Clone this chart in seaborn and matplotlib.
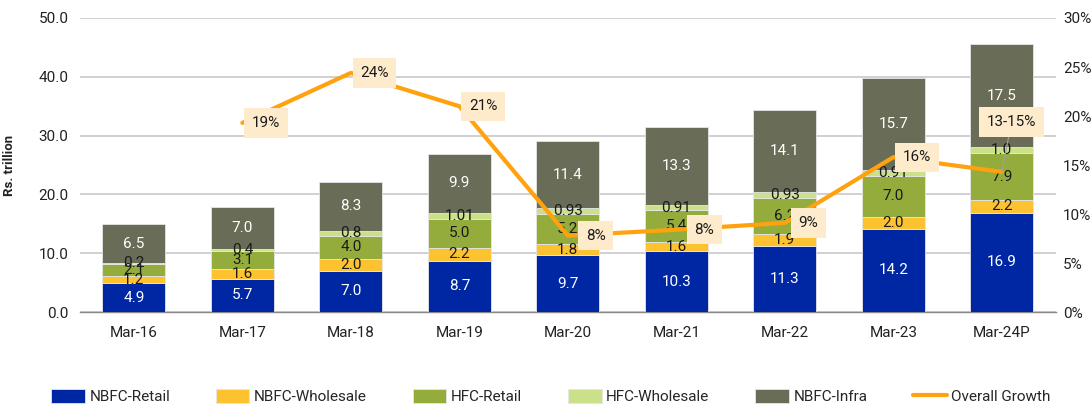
import matplotlib
matplotlib.use('Agg')
import matplotlib.pyplot as plt
import seaborn as sns
import numpy as np
import pandas as pd

# data
years = ['Mar-16', 'Mar-17', 'Mar-18', 'Mar-19', 'Mar-20', 'Mar-21', 'Mar-22', 'Mar-23', 'Mar-24P']
nbfc_retail = [4.9, 5.7, 7.0, 8.7, 9.7, 10.3, 11.3, 14.2, 16.9]
nbfc_wholesale = [1.2, 1.6, 2.0, 2.2, 1.8, 1.6, 1.9, 2.0, 2.2]
hfc_retail = [2.1, 3.1, 4.0, 5.0, 5.2, 5.4, 6.2, 7.0, 7.9]
hfc_wholesale = [0.2, 0.4, 0.8, 1.01, 0.93, 0.91, 0.93, 0.91, 1.0]
nbfc_infra = [6.5, 7.0, 8.3, 9.9, 11.4, 13.3, 14.1, 15.7, 17.5]
growth = [np.nan, 19.3, 24.4, 21.0, 7.8, 8.4, 9.1, 15.8, 14.3]
growth_labels = ['', '19%', '24%', '21%', '8%', '8%', '9%', '16%', '13-15%']

seg_labels = {
    'NBFC-Retail': ['4.9', '5.7', '7.0', '8.7', '9.7', '10.3', '11.3', '14.2', '16.9'],
    'NBFC-Wholesale': ['1.2', '1.6', '2.0', '2.2', '1.8', '1.6', '1.9', '2.0', '2.2'],
    'HFC-Retail': ['2.1', '3.1', '4.0', '5.0', '5.2', '5.4', '6.2', '7.0', '7.9'],
    'HFC-Wholesale': ['0.2', '0.4', '0.8', '1.01', '0.93', '0.91', '0.93', '0.91', '1.0'],
    'NBFC-Infra': ['6.5', '7.0', '8.3', '9.9', '11.4', '13.3', '14.1', '15.7', '17.5'],
}

df = pd.DataFrame({
    'year': years,
    'NBFC-Retail': nbfc_retail,
    'NBFC-Wholesale': nbfc_wholesale,
    'HFC-Retail': hfc_retail,
    'HFC-Wholesale': hfc_wholesale,
    'NBFC-Infra': nbfc_infra,
    'growth': growth,
})

series = ['NBFC-Retail', 'NBFC-Wholesale', 'HFC-Retail', 'HFC-Wholesale', 'NBFC-Infra']
colors = {'NBFC-Retail': '#0027A3', 'NBFC-Wholesale': '#FDC22F',
          'HFC-Retail': '#94AC3B', 'HFC-Wholesale': '#CBE189', 'NBFC-Infra': '#696D57'}
text_colors = {'NBFC-Retail': 'white', 'NBFC-Wholesale': '#1a1a1a',
               'HFC-Retail': '#1a1a1a', 'HFC-Wholesale': '#1a1a1a', 'NBFC-Infra': 'white'}
line_color = '#FFA20D'

sns.set_style('white')
plt.rcParams['font.family'] = ['Roboto', 'DejaVu Sans']
fs = 11

fig = plt.figure(figsize=(10.91, 4.09), dpi=100)
ax = fig.add_axes([0.073, 0.237, 0.895, 0.719])

x = np.arange(len(years))
bottom = np.zeros(len(years))
for s in series:
    vals = df[s].values
    ax.bar(x, vals, bottom=bottom, width=0.58, color=colors[s], edgecolor='#E6E6E6',
           linewidth=0.6, label=s, zorder=3)
    for i in range(len(x)):
        ax.text(x[i], bottom[i] + vals[i] / 2, seg_labels[s][i], ha='center', va='center',
                fontsize=fs, color=text_colors[s], zorder=6)
    bottom = bottom + vals

ax.set_xlim(-0.5, len(years) - 0.5)
ax.set_ylim(0, 50)
ax.set_yticks(np.arange(0, 51, 10))
ax.set_yticklabels([f'{v:.1f}' for v in np.arange(0, 51, 10)], fontsize=fs, color='#222222')
ax.set_xticks(x)
ax.set_xticklabels(years, fontsize=fs, color='#222222')
ax.tick_params(axis='x', length=0, pad=10)
ax.tick_params(axis='y', length=0, pad=8)
# category separator ticks
ax.set_xticks(np.arange(-0.5, len(years), 1), minor=True)
ax.tick_params(axis='x', which='minor', length=6, color='#888888', width=1)
ax.grid(axis='y', color='#C8C8C8', linewidth=1.2, zorder=0)
for sp in ['top', 'right', 'left']:
    ax.spines[sp].set_visible(False)
ax.spines['bottom'].set_color('#888888')
ax.spines['bottom'].set_linewidth(1.0)
ax.set_ylabel('Rs. trillion', fontsize=9.5, fontweight='bold', color='#222222', labelpad=16)

ax2 = ax.twinx()
sns.lineplot(x=x, y=df['growth'].values, ax=ax2, color=line_color, linewidth=3,
             label='Overall Growth', legend=False, zorder=4)
ax2.set_ylim(0, 30)
ax2.set_yticks(np.arange(0, 31, 5))
ax2.set_yticklabels([f'{v}%' for v in range(0, 31, 5)], fontsize=fs, color='#222222')
ax2.tick_params(axis='y', length=0, pad=5)
for sp in ax2.spines.values():
    sp.set_visible(False)

box = dict(boxstyle='square,pad=0.5', facecolor='#FDEBCC', edgecolor='none')
for i in range(1, len(years)):
    if i == len(years) - 1:
        ax2.annotate(growth_labels[i], xy=(x[i], growth[i]), xytext=(7, 36),
                     textcoords='offset points', ha='center', va='center', fontsize=fs,
                     color='#1a1a1a', bbox=box, zorder=7,
                     arrowprops=dict(arrowstyle='-', color='#A0A0A0', lw=0.8,
                                     shrinkA=0, shrinkB=0))
    else:
        dx = 20 if i in (4, 5) else 17
        ax2.annotate(growth_labels[i], xy=(x[i], growth[i]), xytext=(dx, 0),
                     textcoords='offset points', ha='center', va='center', fontsize=fs,
                     color='#1a1a1a', bbox=box, zorder=7)

h1, l1 = ax.get_legend_handles_labels()
h2, l2 = ax2.get_legend_handles_labels()
fig.legend(h1 + h2, l1 + l2, loc='center', bbox_to_anchor=(0.505, 0.03), ncol=6,
           frameon=False, fontsize=fs, handlelength=2.2, handleheight=1.0,
           columnspacing=3.0, handletextpad=0.3)

fig.savefig('out.png', dpi=100)
